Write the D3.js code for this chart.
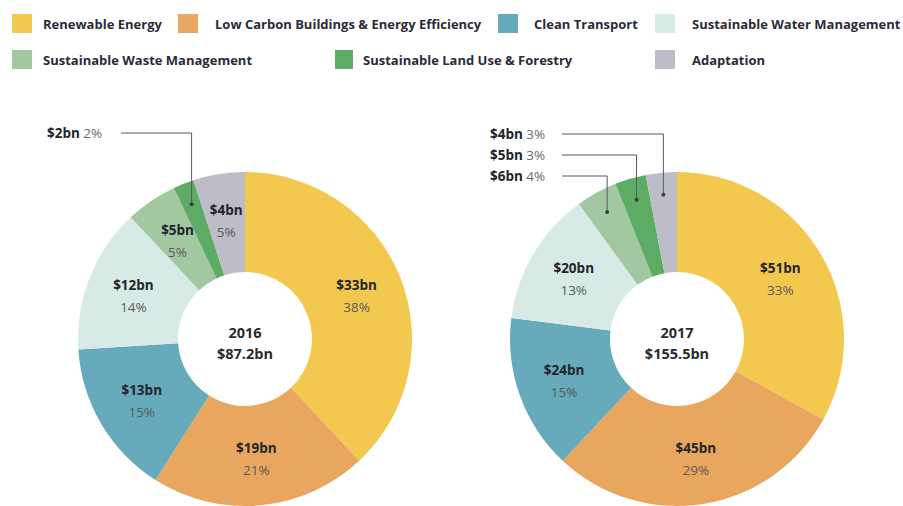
<!DOCTYPE html>
<html>
<head>
<meta charset="utf-8">
<script src="https://cdn.jsdelivr.net/npm/d3@7"></script>
<style>
  html, body { margin: 0; padding: 0; background: #ffffff; }
  svg { display: block; }
</style>
</head>
<body>
<svg id="chart" width="903" height="506"></svg>
<script>
// ---- Data ----
const categories = [
  "Renewable Energy",
  "Low Carbon Buildings & Energy Efficiency",
  "Clean Transport",
  "Sustainable Water Management",
  "Sustainable Waste Management",
  "Sustainable Land Use & Forestry",
  "Adaptation"
];
const colors = ["#f3c84f", "#e8a65e", "#66aabb", "#d8eae6", "#a2c8a2", "#5eab66", "#bdbdc7"];

const years = ["2016", "2017"];
const totals = ["$87.2bn", "$155.5bn"];
const values2016 = [33, 19, 13, 12, 5, 2, 4];      // $bn
const pct2016 = [38, 21, 15, 14, 5, 2, 5];         // %
const values2017 = [51, 45, 24, 20, 6, 5, 4];      // $bn
const pct2017 = [33, 29, 15, 13, 4, 3, 3];         // %

// slices labelled with callouts
const callouts2016 = [5];
const callouts2017 = [6, 5, 4];

// legend rows (category indices)
const legendRow1 = [0, 1, 2, 3];
const legendRow2 = [4, 5, 6];

const svg = d3.select("#chart");
const font = "'Open Sans', 'Noto Sans', sans-serif";

// ---- Legend ----
const legendSw1 = [12, 178, 498, 655], legendTx1 = [43, 215, 534, 692];
const legendSw2 = [12, 335, 655],      legendTx2 = [43, 363, 692];
function drawLegendRow(idxs, sx, tx, y) {
  idxs.forEach((ci, i) => {
    svg.append("rect").attr("x", sx[i]).attr("y", y - 10).attr("width", i === 1 && idxs === legendRow2 ? 18 : 20).attr("height", 19)
      .attr("fill", colors[ci]);
    svg.append("text").attr("x", tx[i]).attr("y", y).attr("dy", "0.35em")
      .attr("font-family", font).attr("font-weight", 700).attr("font-size", 13)
      .attr("fill", "#2b2b38").text(categories[ci]);
  });
}
drawLegendRow(legendRow1, legendSw1, legendTx1, 24);
drawLegendRow(legendRow2, legendSw2, legendTx2, 60);

// ---- Donuts ----
const outerR = 167, innerR = 67;
const arc = d3.arc().innerRadius(innerR).outerRadius(outerR);
const labelArc = d3.arc().innerRadius(120).outerRadius(120);
const anchorArc = d3.arc().innerRadius(145).outerRadius(145);
const pie = d3.pie().sort(null).value(d => d.pct);

function drawDonut(cx, cy, year, total, vals, pcts, callouts, calloutYs, calloutX, lineStartX) {
  const data = categories.map((c, i) => ({ cat: c, value: vals[i], pct: pcts[i], i }));
  const arcs = pie(data);
  const g = svg.append("g").attr("transform", `translate(${cx},${cy})`);

  g.selectAll("path.slice").data(arcs).join("path")
    .attr("class", "slice")
    .attr("d", arc)
    .attr("fill", d => colors[d.data.i]);

  // in-slice labels
  const inside = arcs.filter(d => !callouts.includes(d.data.i));
  const lg = g.selectAll("g.lbl").data(inside).join("g")
    .attr("class", "lbl")
    .attr("transform", d => `translate(${labelArc.centroid(d)})`);
  lg.append("text").attr("text-anchor", "middle").attr("y", -5)
    .attr("font-family", font).attr("font-weight", 700).attr("font-size", 13.5)
    .attr("fill", "#22252b").text(d => `$${d.data.value}bn`);
  lg.append("text").attr("text-anchor", "middle").attr("y", 17)
    .attr("font-family", font).attr("font-weight", 400).attr("font-size", 13.5)
    .attr("fill", "#5a5a5a").text(d => `${d.data.pct}%`);

  // callouts
  callouts.forEach((ci, k) => {
    const d = arcs[ci];
    const [ax, ay] = anchorArc.centroid(d);
    const ly = calloutYs[k] - cy;
    g.append("path")
      .attr("d", `M${lineStartX - cx},${ly}H${ax}V${ay}`)
      .attr("fill", "none").attr("stroke", "#555a60").attr("stroke-width", 1);
    g.append("circle").attr("cx", ax).attr("cy", ay).attr("r", 2).attr("fill", "#3a3f44");
    const t = g.append("text").attr("x", calloutX - cx).attr("y", ly).attr("dy", "0.35em")
      .attr("font-family", font).attr("font-size", 13.5);
    t.append("tspan").attr("font-weight", 700).attr("fill", "#22252b").text(`$${d.data.value}bn`);
    t.append("tspan").attr("font-weight", 400).attr("fill", "#6a6a6a").text(` ${d.data.pct}%`);
  });

  // center text
  g.append("text").attr("text-anchor", "middle").attr("y", -1)
    .attr("font-family", font).attr("font-weight", 700).attr("font-size", 14.5)
    .attr("fill", "#2b2b2b").text(year);
  g.append("text").attr("text-anchor", "middle").attr("y", 20)
    .attr("font-family", font).attr("font-weight", 700).attr("font-size", 14.5)
    .attr("fill", "#2b2b2b").text(total);
}

drawDonut(245, 339, years[0], totals[0], values2016, pct2016, callouts2016, [133], 47, 121);
drawDonut(677, 339, years[1], totals[1], values2017, pct2017, callouts2017, [134, 155, 176], 490, 562);
</script>
</body>
</html>
